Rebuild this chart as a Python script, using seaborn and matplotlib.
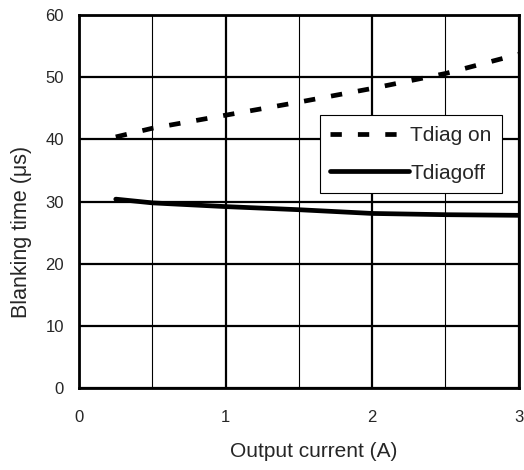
import matplotlib
matplotlib.use("Agg")
import matplotlib.pyplot as plt
import seaborn as sns
import pandas as pd

# --- DATA ---
current = [0.25, 0.5, 1.0, 1.5, 2.0, 2.5, 3.0]
tdiag_on = [40.4, 41.8, 43.9, 46.0, 48.2, 50.6, 53.7]
tdiag_off = [30.4, 29.8, 29.2, 28.7, 28.1, 27.9, 27.8]
x_ticks = [0, 1, 2, 3]
y_ticks = [0, 10, 20, 30, 40, 50, 60]

# --- STYLE ---
sns.set_style("white")
plt.rcParams['font.family'] = ['Liberation Sans', 'DejaVu Sans']

fig = plt.figure(figsize=(5.24, 4.70), dpi=100)
ax = fig.add_axes([0.151, 0.174, 0.839, 0.794])

on_df = pd.DataFrame({"x": current, "y": tdiag_on})
off_df = pd.DataFrame({"x": current, "y": tdiag_off})

sns.lineplot(data=on_df, x="x", y="y", ax=ax, color="black", linewidth=3.4,
             linestyle=(0, (2.4, 3.4)), label="Tdiag on", zorder=4)
sns.lineplot(data=off_df, x="x", y="y", ax=ax, color="black", linewidth=3.4,
             label="Tdiagoff", zorder=4)

ax.set_xlim(0, 3)
ax.set_ylim(0, 60)
ax.set_xticks(x_ticks)
ax.set_yticks(y_ticks)
ax.set_xticks([0.5, 1.5, 2.5], minor=True)

# grid: heavy majors, thin minors
ax.grid(True, which="major", color="black", linewidth=1.6, zorder=1)
ax.grid(True, which="minor", axis="x", color="black", linewidth=0.8, zorder=1)
ax.set_axisbelow(True)

for sp in ax.spines.values():
    sp.set_color("black")
    sp.set_linewidth(2)

ax.tick_params(axis="x", which="both", length=0, pad=16, labelsize=12)
ax.tick_params(axis="y", which="both", length=0, pad=11, labelsize=12)

ax.set_xlabel("Output current (A)", fontsize=15)
ax.set_ylabel("Blanking time (\u03bcs)", fontsize=15.5)
ax.xaxis.set_label_coords(0.534, -0.145)
ax.yaxis.set_label_coords(-0.108, 0.418)

leg = ax.legend(loc="upper right", bbox_to_anchor=(0.962, 0.731), fontsize=15,
                frameon=True, fancybox=False, framealpha=1, edgecolor="black",
                handlelength=3.75, handletextpad=0.08, borderpad=0.5,
                labelspacing=0.9, borderaxespad=0)
leg.get_frame().set_linewidth(0.8)

fig.savefig("out.png", dpi=100)
